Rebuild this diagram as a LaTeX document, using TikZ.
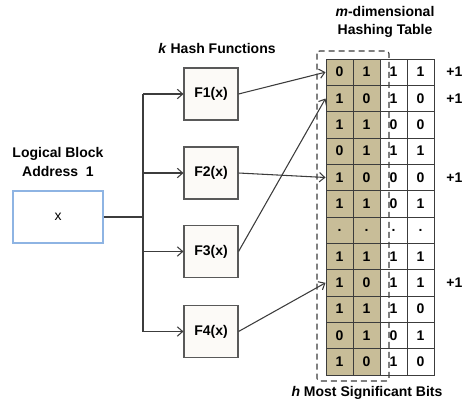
\documentclass[tikz,border=0pt]{standalone}
\usepackage{fontspec}
\setmainfont{Liberation Sans}
\usetikzlibrary{arrows.meta}
\definecolor{cellkhaki}{HTML}{C8BD98}
\definecolor{linegray}{HTML}{3C3C3C}
\definecolor{boxfill}{HTML}{FCFAF7}
\definecolor{lbablue}{HTML}{8EB4E3}
\tikzset{
	hashbox/.style={draw=linegray!85, fill=boxfill, line width=0.8pt, minimum width=40.5pt, minimum height=39pt, inner sep=0pt},
	msbcell/.style={draw=linegray, fill=cellkhaki, line width=0.7pt, minimum width=20.25pt, minimum height=19.75pt, inner sep=0pt},
	lsbcell/.style={msbcell, fill=white},
	conn/.style={draw=linegray, line width=0.8pt},
}
\begin{document}
\begin{tikzpicture}[x=0.75pt, y=-0.75pt, font=\fontsize{10.5}{14}\selectfont\bfseries, >={Straight Barb[length=4pt,width=7pt]}]
	\useasboundingbox (0,0) rectangle (465,405);
	% labels
	\node[align=center] (lbatitle) at (58,162) {Logical Block\\Address\ \ 1};
	\node (hashtitle) at (217,48) {\textit{k} Hash Functions};
	\node[align=center] (tabletitle) at (385,22) {\textit{m}-dimensional\\Hashing Table};
	\node (bitstitle) at (367,393) {\textit{h} Most Significant Bits};
	% input block
	\node[draw=lbablue, fill=white, line width=0.8pt, minimum width=67.5pt, minimum height=39pt, font=\fontsize{10.5}{14}\selectfont] (lba) at (58,217) {x};
	\coordinate (split) at (143,217);
	% hash functions
	\foreach \i/\y in {1/94,2/173,3/251.5,4/331.5}
		\node[hashbox] (f\i) at (211,\y) {F\i(x)};
	\draw[conn, line width=1.3pt] (lba.east) -- (split);
	\draw[conn] (split |- f1) -- (split |- f4);
	\foreach \i in {1,...,4}
		\draw[conn, ->] (split |- f\i) -- (f\i.west);
	% hashing table
	\foreach \r/\a/\b/\c/\d in {1/0/1/1/1, 2/1/0/1/0, 3/1/1/0/0, 4/0/1/1/1, 5/1/0/0/0, 6/1/1/0/1, 7/./././., 8/1/1/1/1, 9/1/0/1/1, 10/1/1/1/0, 11/0/1/0/1, 12/1/0/1/0}{
		\node[msbcell] (c\r-1) at (339.5,{72.17+26.33*(\r-1)}) {\a};
		\node[msbcell] (c\r-2) at (366.5,{72.17+26.33*(\r-1)}) {\b};
		\node[lsbcell] (c\r-3) at (393.5,{72.17+26.33*(\r-1)}) {\c};
		\node[lsbcell] (c\r-4) at (420.5,{72.17+26.33*(\r-1)}) {\d};
	}
	\foreach \r in {1,2,5,9}
		\node[inner sep=0pt, xshift=15pt] (inc\r) at (c\r-4.east) {+1};
	\draw[linegray, line width=0.8pt, dash pattern=on 4.5pt off 3pt, rounded corners=2pt] (317,51) rectangle (389,381);
	% hash outputs
	\draw[conn, ->] (f1.east) -- (c1-1.west);
	\draw[conn, ->] (f2.east) -- (c5-1.west);
	\draw[conn, ->] (f3.east) -- (c2-1.west);
	\draw[conn, ->] (f4.east) -- (c9-1.west);
\end{tikzpicture}
\end{document}
